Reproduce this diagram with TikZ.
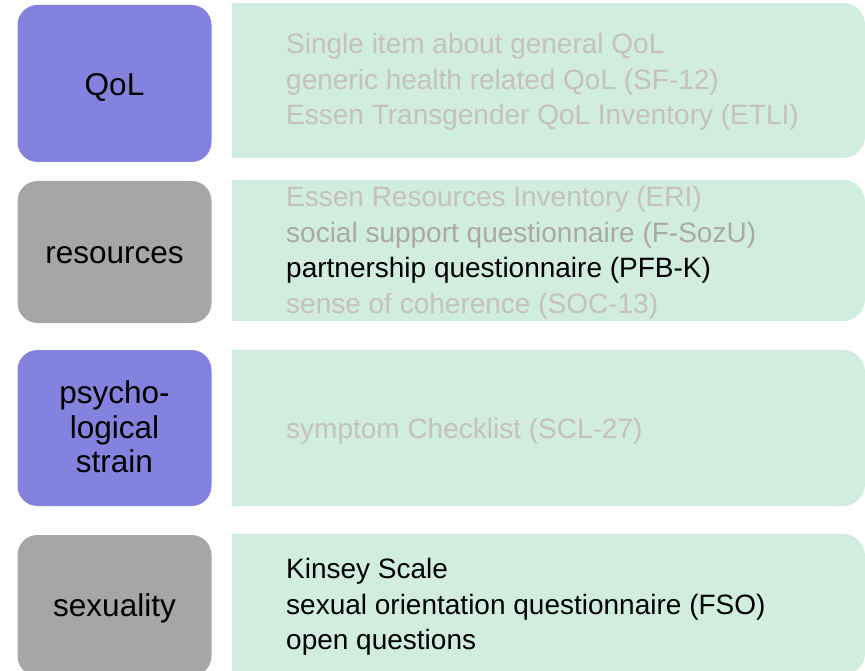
\documentclass[tikz,border=0pt]{standalone}
\usepackage{fontspec}
\setmainfont{Liberation Sans}
\definecolor{catpurple}{RGB}{131,131,223}
\definecolor{catgray}{RGB}{166,166,166}
\definecolor{panelgreen}{RGB}{208,237,224}
\definecolor{fadetext}{RGB}{198,192,192}
\definecolor{midtext}{RGB}{172,168,168}
\tikzset{
  catbox/.style={rounded corners=20pt},
  cattext/.style={anchor=base, inner sep=0pt, font=\fontsize{31.5}{34}\selectfont, text=black},
  itemtext/.style={anchor=base west, inner sep=0pt, font=\fontsize{28}{35}\selectfont},
  faded/.style={itemtext, text=fadetext},
  mid/.style={itemtext, text=midtext},
  strong/.style={itemtext, text=black},
}
\newcommand{\panel}[2]{%
  \fill[panelgreen] (232pt,-#1pt) -- (843pt,-#1pt) arc[start angle=90,end angle=0,radius=22pt]
    -- (865pt,-#2pt+22pt) arc[start angle=0,end angle=-90,radius=22pt] -- (232pt,-#2pt) -- cycle;}
\begin{document}
\begin{tikzpicture}[x=1pt,y=-1pt]
\useasboundingbox (0,0) rectangle (865,671);
% left category boxes
\fill[catpurple, catbox] (17.5,5) rectangle (211.5,162);
\fill[catgray, catbox] (17.5,181) rectangle (211.5,323);
\fill[catpurple, catbox] (17.5,350) rectangle (211.5,506);
\fill[catgray, catbox] (17.5,535) rectangle (211.5,676);
% right panels
\panel{3}{158}
\panel{180}{321}
\panel{350}{506}
\panel{534}{675}
% category labels
\node[cattext] (qol) at (114.5,96) {QoL};
\node[cattext] (res) at (114.5,263) {resources};
\node[cattext] (psy1) at (114.5,403) {psycho-};
\node[cattext] (psy2) at (114.5,438) {logical};
\node[cattext] (psy3) at (114.5,472) {strain};
\node[cattext] (sex) at (114.5,616) {sexuality};
% items
\node[faded] (q1) at (286,54) {Single item about general QoL};
\node[faded] (q2) at (286,89.5) {generic health related QoL (SF-12)};
\node[faded] (q3) at (286,125) {Essen Transgender QoL Inventory (ETLI)};
\node[faded] (r1) at (286,207) {Essen Resources Inventory (ERI)};
\node[mid] (r2) at (286,242.3) {social support questionnaire (F-SozU)};
\node[strong] (r3) at (286,277.6) {partnership questionnaire (PFB-K)};
\node[faded] (r4) at (286,313) {sense of coherence (SOC-13)};
\node[faded] (p1) at (286,438) {symptom Checklist (SCL-27)};
\node[strong] (s1) at (286,578) {Kinsey Scale};
\node[strong] (s2) at (286,614) {sexual orientation questionnaire (FSO)};
\node[strong] (s3) at (286,649) {open questions};
\end{tikzpicture}
\end{document}
